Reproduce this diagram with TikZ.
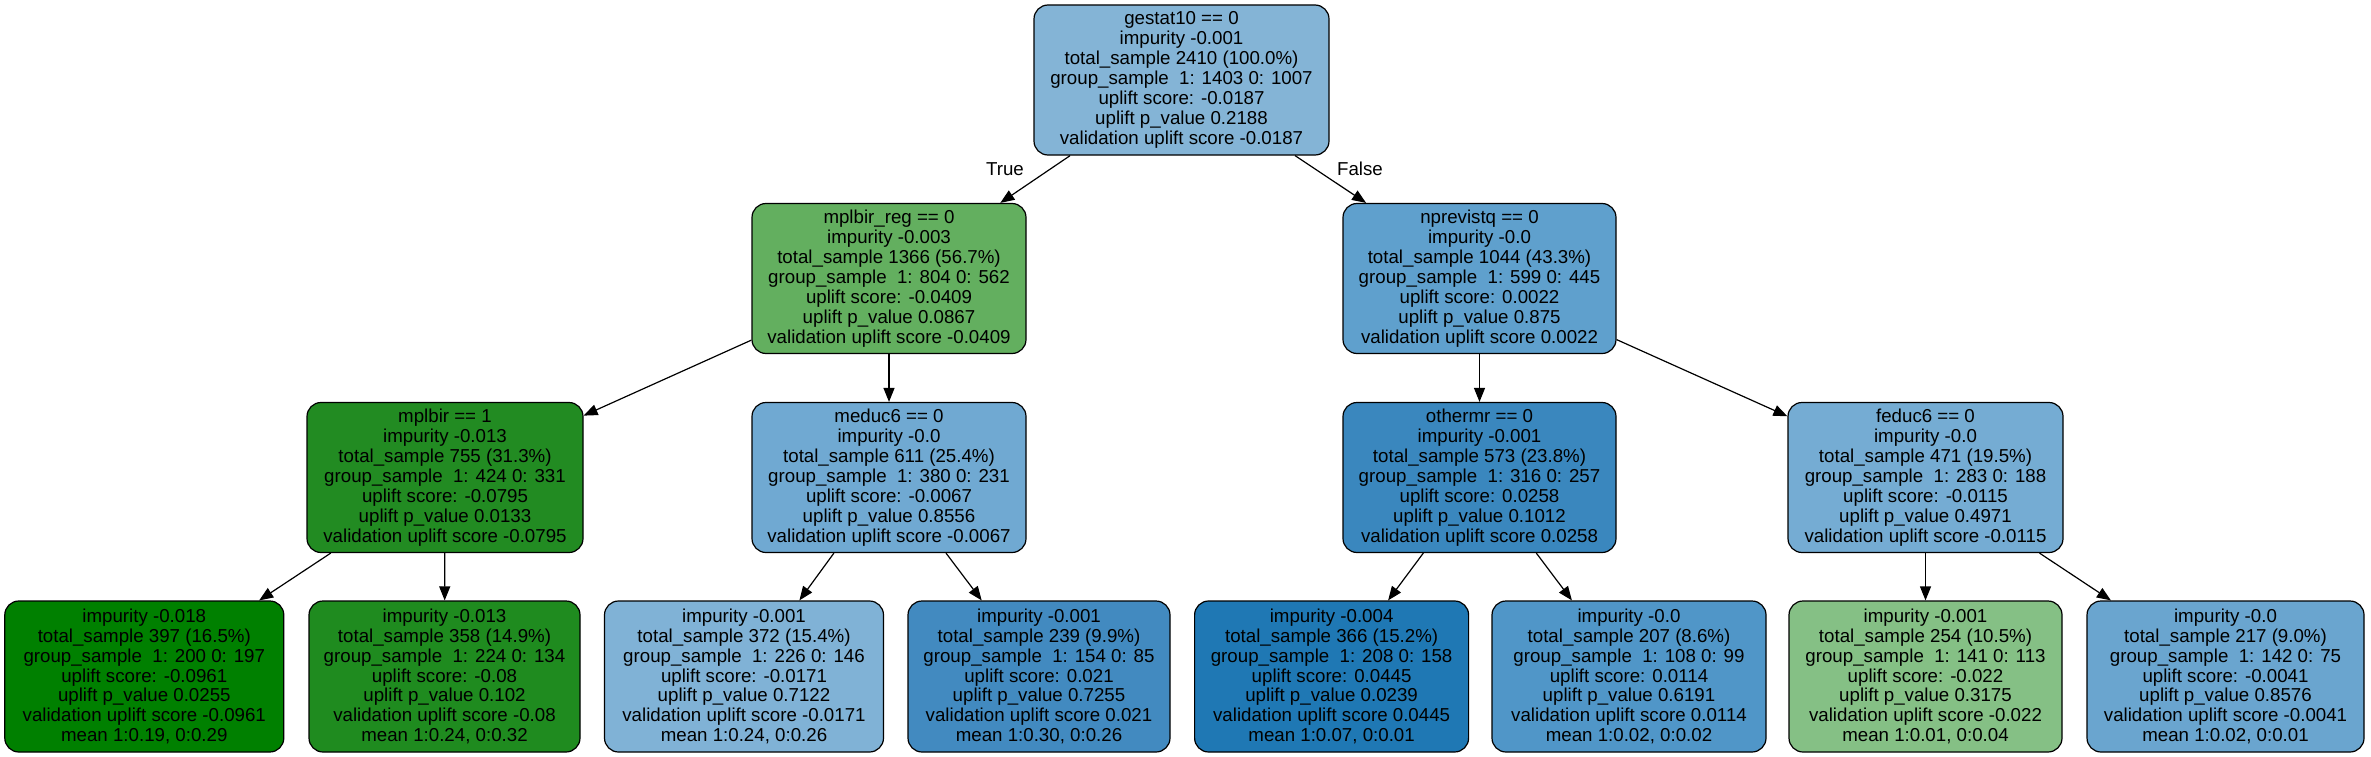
\documentclass[tikz,border=0pt]{standalone}
\usepackage{fontspec}
\setmainfont{Liberation Sans}
\usetikzlibrary{arrows.meta}
\definecolor{cRoot}{RGB}{132,180,214}
\definecolor{cLa}{RGB}{99,175,95}
\definecolor{cLb}{RGB}{95,160,205}
\definecolor{cMa}{RGB}{34,139,34}
\definecolor{cMb}{RGB}{112,169,210}
\definecolor{cMc}{RGB}{58,135,190}
\definecolor{cMd}{RGB}{117,172,211}
\definecolor{cF1}{RGB}{0,128,0}
\definecolor{cF2}{RGB}{31,139,31}
\definecolor{cF3}{RGB}{128,178,214}
\definecolor{cF4}{RGB}{66,138,192}
\definecolor{cF5}{RGB}{31,120,180}
\definecolor{cF6}{RGB}{80,150,200}
\definecolor{cF7}{RGB}{133,192,133}
\definecolor{cF8}{RGB}{106,165,207}
\begin{document}
\begin{tikzpicture}[x=1pt,y=-1pt,
  tnode/.style={draw=black, line width=1.2pt, rounded corners=14pt, inner sep=0pt,
    align=center, minimum height=150pt, font=\fontsize{18.7}{19.9}\selectfont},
  edge/.style={line width=1.2pt, -{Triangle[length=14pt,width=11pt]}},
  lbl/.style={font=\fontsize{18.7}{19.9}\selectfont, inner sep=0pt}]
\useasboundingbox (0,0) rectangle (2371,757);
\fill[white] (0,0) rectangle (2371,757);

\node[tnode, fill=cRoot, minimum width=295pt] (root) at (1181.5,80) {gestat10 == 0\\impurity -0.001\\total\_sample 2410 (100.0\%)\\group\_sample\ \ 1: 1403 0: 1007\\uplift score: -0.0187\\uplift p\_value 0.2188\\validation uplift score -0.0187};

\node[tnode, fill=cLa, minimum width=274pt] (la) at (889,278.5) {mplbir\_reg == 0\\impurity -0.003\\total\_sample 1366 (56.7\%)\\group\_sample\ \ 1: 804 0: 562\\uplift score: -0.0409\\uplift p\_value 0.0867\\validation uplift score -0.0409};

\node[tnode, fill=cLb, minimum width=273pt] (lb) at (1479.5,278.5) {nprevistq == 0\\impurity -0.0\\total\_sample 1044 (43.3\%)\\group\_sample\ \ 1: 599 0: 445\\uplift score: 0.0022\\uplift p\_value 0.875\\validation uplift score 0.0022};

\node[tnode, fill=cMa, minimum width=276pt] (ma) at (445,477.5) {mplbir == 1\\impurity -0.013\\total\_sample 755 (31.3\%)\\group\_sample\ \ 1: 424 0: 331\\uplift score: -0.0795\\uplift p\_value 0.0133\\validation uplift score -0.0795};

\node[tnode, fill=cMb, minimum width=274pt] (mb) at (889,477.5) {meduc6 == 0\\impurity -0.0\\total\_sample 611 (25.4\%)\\group\_sample\ \ 1: 380 0: 231\\uplift score: -0.0067\\uplift p\_value 0.8556\\validation uplift score -0.0067};

\node[tnode, fill=cMc, minimum width=273pt] (mc) at (1479.5,477.5) {othermr == 0\\impurity -0.001\\total\_sample 573 (23.8\%)\\group\_sample\ \ 1: 316 0: 257\\uplift score: 0.0258\\uplift p\_value 0.1012\\validation uplift score 0.0258};

\node[tnode, fill=cMd, minimum width=275pt] (md) at (1925.5,477.5) {feduc6 == 0\\impurity -0.0\\total\_sample 471 (19.5\%)\\group\_sample\ \ 1: 283 0: 188\\uplift score: -0.0115\\uplift p\_value 0.4971\\validation uplift score -0.0115};

\node[tnode, fill=cF1, minimum width=279pt, minimum height=151pt] (f1) at (144.3,676.5) {impurity -0.018\\total\_sample 397 (16.5\%)\\group\_sample\ \ 1: 200 0: 197\\uplift score: -0.0961\\uplift p\_value 0.0255\\validation uplift score -0.0961\\mean 1:0.19, 0:0.29};

\node[tnode, fill=cF2, minimum width=271pt, minimum height=151pt] (f2) at (444.5,676.5) {impurity -0.013\\total\_sample 358 (14.9\%)\\group\_sample\ \ 1: 224 0: 134\\uplift score: -0.08\\uplift p\_value 0.102\\validation uplift score -0.08\\mean 1:0.24, 0:0.32};

\node[tnode, fill=cF3, minimum width=279pt, minimum height=151pt] (f3) at (744,676.5) {impurity -0.001\\total\_sample 372 (15.4\%)\\group\_sample\ \ 1: 226 0: 146\\uplift score: -0.0171\\uplift p\_value 0.7122\\validation uplift score -0.0171\\mean 1:0.24, 0:0.26};

\node[tnode, fill=cF4, minimum width=262pt, minimum height=151pt] (f4) at (1039,676.5) {impurity -0.001\\total\_sample 239 (9.9\%)\\group\_sample\ \ 1: 154 0: 85\\uplift score: 0.021\\uplift p\_value 0.7255\\validation uplift score 0.021\\mean 1:0.30, 0:0.26};

\node[tnode, fill=cF5, minimum width=274pt, minimum height=151pt] (f5) at (1331.6,676.5) {impurity -0.004\\total\_sample 366 (15.2\%)\\group\_sample\ \ 1: 208 0: 158\\uplift score: 0.0445\\uplift p\_value 0.0239\\validation uplift score 0.0445\\mean 1:0.07, 0:0.01};

\node[tnode, fill=cF6, minimum width=274pt, minimum height=151pt] (f6) at (1629,676.5) {impurity -0.0\\total\_sample 207 (8.6\%)\\group\_sample\ \ 1: 108 0: 99\\uplift score: 0.0114\\uplift p\_value 0.6191\\validation uplift score 0.0114\\mean 1:0.02, 0:0.02};

\node[tnode, fill=cF7, minimum width=273pt, minimum height=151pt] (f7) at (1925.5,676.5) {impurity -0.001\\total\_sample 254 (10.5\%)\\group\_sample\ \ 1: 141 0: 113\\uplift score: -0.022\\uplift p\_value 0.3175\\validation uplift score -0.022\\mean 1:0.01, 0:0.04};

\node[tnode, fill=cF8, minimum width=277pt, minimum height=151pt] (f8) at (2225.5,676.5) {impurity -0.0\\total\_sample 217 (9.0\%)\\group\_sample\ \ 1: 142 0: 75\\uplift score: -0.0041\\uplift p\_value 0.8576\\validation uplift score -0.0041\\mean 1:0.02, 0:0.01};

\draw[edge] (root) -- (la);
\draw[edge] (root) -- (lb);
\draw[edge] (la) -- (ma);
\draw[edge] (la) -- (mb);
\draw[edge] (lb) -- (mc);
\draw[edge] (lb) -- (md);
\draw[edge] (ma) -- (f1);
\draw[edge] (ma) -- (f2);
\draw[edge] (mb) -- (f3);
\draw[edge] (mb) -- (f4);
\draw[edge] (mc) -- (f5);
\draw[edge] (mc) -- (f6);
\draw[edge] (md) -- (f7);
\draw[edge] (md) -- (f8);

\node[lbl] (ltrue) at (1005,169) {True};
\node[lbl] (lfalse) at (1360,169) {False};
\end{tikzpicture}
\end{document}
